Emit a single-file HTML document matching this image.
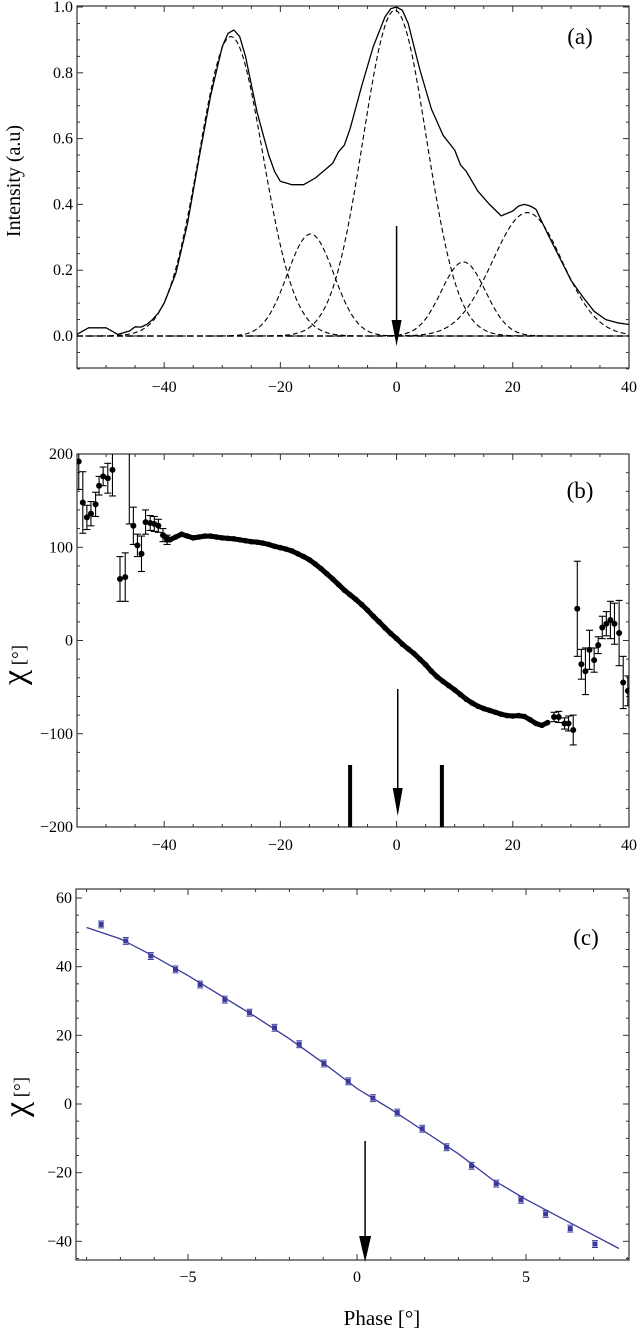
<!DOCTYPE html>
<html><head><meta charset="utf-8"><style>
html,body{margin:0;padding:0;background:#fff;}
svg, svg text{font-family:"Liberation Serif","DejaVu Serif",serif;}
</style></head><body>
<svg id="fig" width="637" height="1330" viewBox="0 0 637 1330" xmlns="http://www.w3.org/2000/svg" font-family="Liberation Serif, serif">
<defs>
<clipPath id="ca"><rect x="77" y="6" width="552" height="362"/></clipPath>
<clipPath id="cb"><rect x="77" y="454" width="552" height="373"/></clipPath>
<clipPath id="cc"><rect x="76" y="889" width="553" height="371"/></clipPath>
</defs>
<text font-family="Liberation Serif, serif" transform="translate(20,181) rotate(-90)" text-anchor="middle" font-size="20">Intensity (a.u)</text>
<text font-family="Liberation Serif, serif" x="580" y="44" text-anchor="middle" font-size="23">(a)</text>
<text font-family="Liberation Serif, serif" x="580" y="498" text-anchor="middle" font-size="23">(b)</text>
<text font-family="Liberation Serif, serif" x="586" y="945" text-anchor="middle" font-size="23">(c)</text>
<g transform="translate(25,665) rotate(-90)"><text font-family="Liberation Serif, serif" text-anchor="middle" font-size="19"><tspan font-size="34">χ</tspan>  [°]</text></g>
<g transform="translate(27,1097) rotate(-90)"><text font-family="Liberation Serif, serif" text-anchor="middle" font-size="19"><tspan font-size="34">χ</tspan>  [°]</text></g>
<text font-family="Liberation Serif, serif" x="382" y="1325" text-anchor="middle" font-size="21">Phase [°]</text>
</svg>
<script>
// ---------- Panel (a) data ----------
var aPhase=[-55,-54,-53,-51,-50,-49,-48,-47,-46,-45,-44,-43,-42,-41,-40,-38,-36,-34,-32,-30,-29,-28,-27,-26,-24,-22,-21,-20,-19,-18,-16,-15,-14,-12,-11,-10,-9,-8,-6,-4,-2,-1,0,1,2,3,4,6,8,10,11,12,14,16,18,20,21,22,23,24,26,28,30,32,34,36,38,40];
var aIntensity=[0.005,0.015,0.025,0.025,0.025,0.015,0.005,0.01,0.015,0.028,0.027,0.035,0.05,0.07,0.1,0.19,0.34,0.54,0.73,0.88,0.92,0.93,0.91,0.85,0.68,0.55,0.5,0.47,0.465,0.46,0.46,0.47,0.48,0.51,0.525,0.56,0.58,0.63,0.76,0.88,0.97,0.995,1.0,0.99,0.95,0.88,0.81,0.69,0.61,0.565,0.52,0.5,0.44,0.4,0.365,0.38,0.395,0.4,0.395,0.385,0.31,0.24,0.17,0.12,0.075,0.05,0.04,0.035];
var gCenters=[-28.5,-14.8,-0.3,11.5,22.5];
var gAmps=[0.91,0.31,0.99,0.225,0.375];
var gSigmas=[5.5,4.0,5.45,3.8,6.0];
var aYTicks=["0.0","0.2","0.4","0.6","0.8","1.0"];
var xTicksAB=[-40,-20,0,20,40];
// ---------- Panel (b) data ----------
var bDensePhase=[-40,-39,-38,-37,-36,-35,-34,-33,-32,-31,-30,-29,-28,-27,-26,-25,-24,-23,-22,-21,-20,-19,-18,-17,-16,-15,-14,-13,-12,-11,-10,-9,-8,-7,-6,-5,-4,-3,-2,-1,0,1,2,3,4,5,6,7,8,9,10,11,12,13,14,15,16,17,18,19,20,21,22,23,24,25,26];
var bDenseChi=[112,108,111,114,112,110,111,112,112,111,110,109.5,109,108,107,106,105.5,104.5,103,101,99.5,98,96,93,90,86.5,82,77,71.5,66,60,54,49,44,38.5,32.5,26,20,13.5,7.5,2,-4,-9,-14,-20,-26,-33,-39,-44,-48.5,-53,-58,-63,-67,-70.5,-73,-75,-77,-79,-80.5,-81,-80.5,-81.5,-85,-89,-91,-88];
var bErrPhase=[-54.7,-54,-53.3,-52.6,-51.8,-51.2,-50.5,-49.7,-48.9,-47.6,-46.7,-46,-45.3,-44.6,-43.9,-43.2,-42.4,-41.7,-41,-40.2,-39.5,27.1,27.9,28.9,29.6,30.4,31.1,31.8,32.5,33.2,34,34.7,35.4,36.1,36.8,37.5,38.3,39,39.8];
var bErrChi=[192,148,132,136,146,166,176,174,183,66,68,240,123,102,93,127,126,125,123,113,108,-82,-82,-89,-89,-96,34,-25.5,-33,-10,-21,-5,14,18,22,18,8,-45,-54];
var bErrSize=[30,33,13,13,13,10,10,16,28,24,26,115,20,12,19,13,8,8,7,7,5,5,6,6,8,16,51,16,25,21,13,9,12,13,20,22,35,28,16];
var bYTicks=[200,100,0,-100,-200];
var bMarkers=[-8,7.8];
// ---------- Panel (c) data ----------
var cPhase=[-7.57,-6.84,-6.10,-5.37,-4.64,-3.91,-3.18,-2.44,-1.71,-0.98,-0.26,0.47,1.19,1.93,2.65,3.39,4.12,4.85,5.58,6.31,7.04];
var cChi=[52.3,47.5,43.1,39.2,34.8,30.4,26.6,22.2,17.4,11.8,6.6,1.7,-2.5,-7.2,-12.6,-18.0,-23.2,-27.9,-32.0,-36.3,-40.8];
var cErr=[1,1,1,1,1,1,1,1,1,1,1,1,1,1,1,1,1,1,1,1,1];
var fitPhase=[-8,-7,-6,-5,-4,-3,-2,-1,0,1,2,3,4,5,6,7,7.75];
var fitChi=[51.4,48.1,43.0,37.4,31.4,25.4,19.0,12.0,4.5,-1.5,-8.0,-14.5,-22.0,-27.8,-33.0,-38.2,-42.1];
var cYTicks=[60,40,20,0,-20,-40];
var cXTicks=[-5,0,5];
var arrowAPhase=0, arrowBPhase=0.2, arrowCPhase=0.24;

var NS="http://www.w3.org/2000/svg";
var svg=document.getElementById('fig');
function mk(tag,attrs,parent){var e=document.createElementNS(NS,tag);for(var k in attrs)e.setAttribute(k,attrs[k]);(parent||svg).appendChild(e);return e;}
function lin(d0,d1,r0,r1){return function(v){return r0+(v-d0)*(r1-r0)/(d1-d0);};}
var xAB=lin(-55,40,77,629);
var yA=lin(0,1,336,7);
var yB=lin(200,-200,454,827);
var xC=lin(0,5,357,526);
var yC=lin(0,60,1104,898);

function frame(name,x0,y0,x1,y1,xs,xmaj,xmin,ymaj,ymin,ys,xfmt,yfmt,labelY){
  var g=mk('g',{});
  
  
  mk('rect',{x:x0,y:y0,width:x1-x0,height:y1-y0,fill:'none',stroke:'#333','stroke-width':1.2},g);
  xmin.forEach(function(v){var X=xs(v);var L=xmaj.indexOf(v)>=0?6:3;
    mk('line',{x1:X,y1:y1,x2:X,y2:y1-L,stroke:'#333'},g);mk('line',{x1:X,y1:y0,x2:X,y2:y0+L,stroke:'#333'},g);});
  ymin.forEach(function(v){var Y=ys(v);var L=ymaj.some(function(m){return Math.abs(m-v)<1e-6;})?6:3;
    mk('line',{x1:x0,y1:Y,x2:x0+L,y2:Y,stroke:'#333'},g);mk('line',{x1:x1,y1:Y,x2:x1-L,y2:Y,stroke:'#333'},g);});
  xmaj.forEach(function(v){var t=mk('text',{x:xs(v),y:labelY,'text-anchor':'middle','font-size':16,'font-family':'Liberation Serif, serif'},g);t.textContent=xfmt(v);
    });
  ymaj.forEach(function(v,i){var t=mk('text',{x:x0-4,y:ys(v)+5,'text-anchor':'end','font-size':16,'font-family':'Liberation Serif, serif'},g);t.textContent=yfmt(v,i);
    });
}
function rng(a,b,s){var r=[];for(var v=a;v<=b+1e-9;v+=s)r.push(Math.round(v*1000)/1000);return r;}
function fmtMinus(v){return v<0?'\u2212'+(-v):''+v;}
function arrow(name,X,ytop,ytip,hw,hh){var g=mk('g',{});
  mk('line',{x1:X,y1:ytop,x2:X,y2:ytip-hh+2,stroke:'#000','stroke-width':1.5},g);
  mk('polygon',{points:(X-hw)+','+(ytip-hh)+' '+(X+hw)+','+(ytip-hh)+' '+X+','+ytip+' ',fill:'#000'},g);}

// ----- Panel (a)
frame('axes-a',77,6,629,368,xAB,xTicksAB,rng(-55,40,5),[0,0.2,0.4,0.6,0.8,1.0],rng(-0.1,1.0,0.05),yA,fmtMinus,function(v,i){return aYTicks[i];},392);
var ga=mk('g',{'clip-path':'url(#ca)'});

var base=mk('line',{x1:77,y1:yA(0),x2:629,y2:yA(0),stroke:'#000','stroke-width':1.6,'stroke-dasharray':'6,4'},ga);

gCenters.forEach(function(c,i){var pts=[];for(var p=-55;p<=40;p+=0.25){var v=gAmps[i]*Math.exp(-Math.pow(p-c,2)/(2*gSigmas[i]*gSigmas[i]));pts.push(xAB(p).toFixed(1)+','+yA(v).toFixed(1));}
  var pl=mk('polyline',{points:pts.join(' '),fill:'none',stroke:'#000','stroke-width':1.1,'stroke-dasharray':'5,3'},ga);
  });
var sl=mk('polyline',{points:aPhase.map(function(p,i){return xAB(p).toFixed(1)+','+yA(aIntensity[i]).toFixed(1);}).join(' '),fill:'none',stroke:'#000','stroke-width':1.3,'stroke-linejoin':'round'},ga);

arrow('arrow-a',xAB(arrowAPhase),226,346,5,26);

// ----- Panel (b)
frame('axes-b',77,454,629,827,xAB,xTicksAB,rng(-55,40,5),bYTicks,rng(-200,200,20),yB,fmtMinus,function(v){return fmtMinus(v);},850);
var gb=mk('g',{'clip-path':'url(#cb)'});

var dl=mk('polyline',{points:bDensePhase.map(function(p,i){return xAB(p).toFixed(1)+','+yB(bDenseChi[i]).toFixed(1);}).join(' '),fill:'none',stroke:'#000','stroke-width':5,'stroke-linejoin':'round','stroke-linecap':'round'},gb);

bDensePhase.forEach(function(p,i){var c=mk('circle',{cx:xAB(p),cy:yB(bDenseChi[i]),r:2.8,fill:'#000'},gb);
  });
bErrPhase.forEach(function(p,i){var X=xAB(p),Y=yB(bErrChi[i]),t=yB(bErrChi[i]+bErrSize[i]),b=yB(bErrChi[i]-bErrSize[i]);
  var g=mk('g',{},gb);
  mk('line',{x1:X,y1:t,x2:X,y2:b,stroke:'#000','stroke-width':1.1},g);
  mk('line',{x1:X-3.5,y1:t,x2:X+3.5,y2:t,stroke:'#000','stroke-width':1.1},g);
  mk('line',{x1:X-3.5,y1:b,x2:X+3.5,y2:b,stroke:'#000','stroke-width':1.1},g);
  mk('circle',{cx:X,cy:Y,r:3,fill:'#000'},g);});
bMarkers.forEach(function(p){var r=mk('rect',{x:xAB(p)-2,y:765,width:4,height:62,fill:'#000'});
  });
arrow('arrow-b',xAB(arrowBPhase),689,816,5,28);

// ----- Panel (c)
frame('axes-c',76,889,629,1260,xC,cXTicks,rng(-8,8,1),cYTicks,rng(-45,60,5),yC,fmtMinus,function(v){return fmtMinus(v);},1282);
var gc=mk('g',{'clip-path':'url(#cc)'});

var fl=mk('polyline',{points:fitPhase.map(function(p,i){return xC(p).toFixed(1)+','+yC(fitChi[i]).toFixed(1);}).join(' '),fill:'none',stroke:'#3a3a9a','stroke-width':1.3},gc);

cPhase.forEach(function(p,i){var X=xC(p),Y=yC(cChi[i]);
  var g=mk('g',{},gc);
  mk('line',{x1:X-3,y1:yC(cChi[i]+cErr[i]),x2:X+3,y2:yC(cChi[i]+cErr[i]),stroke:'#3a3a9a','stroke-width':1},g);
  mk('line',{x1:X-3,y1:yC(cChi[i]-cErr[i]),x2:X+3,y2:yC(cChi[i]-cErr[i]),stroke:'#3a3a9a','stroke-width':1},g);
  mk('rect',{x:X-2.5,y:Y-2.5,width:5,height:5,fill:'#3a3a9a'},g);});
arrow('arrow-c',xC(arrowCPhase),1141,1262,6,26);
</script>
</body></html>
